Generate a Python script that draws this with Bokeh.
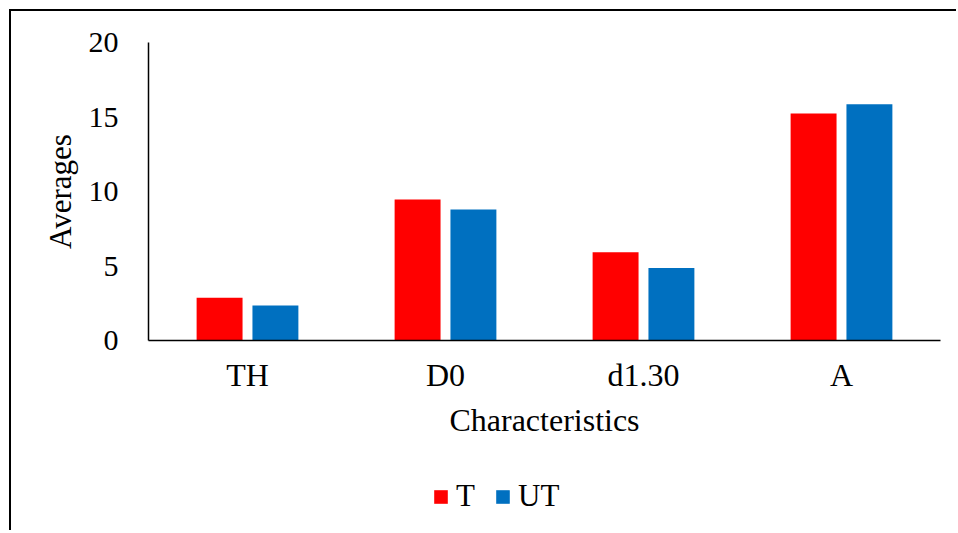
from bokeh.plotting import figure
from bokeh.layouts import column
from bokeh.models import ColumnDataSource, Legend, LegendItem, FactorRange
from bokeh.transform import dodge
from bokeh.embed import file_html
from bokeh.resources import INLINE

categories = ["TH", "D0", "d1.30", "A"]
t_values = [2.87, 9.46, 5.93, 15.24]
ut_values = [2.35, 8.79, 4.87, 15.85]
series_names = ["T", "UT"]
colors = ["#FF0000", "#0070C0"]
y_ticks = [0, 5, 10, 15, 20]

source = ColumnDataSource(dict(cat=categories, T=t_values, UT=ut_values))

FONT = "Liberation Serif"

p = figure(
    x_range=FactorRange(*categories, range_padding=0),
    y_range=(0, 20),
    width=945, height=439,
    output_backend="svg", toolbar_location=None,
    min_border_left=137, min_border_right=16, min_border_top=31, min_border_bottom=110,
)
p.outline_line_color = None
p.xgrid.grid_line_color = None
p.ygrid.grid_line_color = None

r1 = p.vbar(x=dodge("cat", -0.141, range=p.x_range), top="T", width=0.232,
            source=source, color=colors[0], line_color=None)
r2 = p.vbar(x=dodge("cat", 0.141, range=p.x_range), top="UT", width=0.232,
            source=source, color=colors[1], line_color=None)

p.yaxis.ticker = y_ticks
for ax in (p.xaxis[0], p.yaxis[0]):
    ax.axis_line_color = "black"
    ax.axis_line_width = 1.5
    ax.major_tick_line_color = None
    ax.minor_tick_line_color = None
    ax.major_tick_out = 0
    ax.major_tick_in = 0
    ax.major_label_text_font = FONT
    ax.major_label_text_color = "black"
    ax.axis_label_text_font = FONT
    ax.axis_label_text_font_style = "normal"
    ax.axis_label_text_color = "black"

p.xaxis.major_label_text_font_size = "32px"
p.xaxis.axis_label_text_font_size = "32px"
p.yaxis.major_label_text_font_size = "30px"
p.yaxis.axis_label_text_font_size = "31px"
p.xaxis.axis_label = "Characteristics"
p.yaxis.axis_label = "Averages"
p.xaxis.major_label_standoff = 16
p.xaxis.axis_label_standoff = 6
p.yaxis.major_label_standoff = 30
p.yaxis.axis_label_standoff = 8

# legend strip below the chart (swatches take their colours from renderers
# sharing the same source; the y range keeps these copies out of view)
lf = figure(
    x_range=p.x_range, y_range=(100, 200),
    width=945, height=80,
    output_backend="svg", toolbar_location=None,
    min_border_left=0, min_border_right=0, min_border_top=0, min_border_bottom=0,
)
lf.axis.visible = False
lf.grid.visible = False
lf.outline_line_color = None
l1 = lf.vbar(x="cat", top="T", width=0.232, source=source, color=colors[0], line_color=None)
l2 = lf.vbar(x="cat", top="UT", width=0.232, source=source, color=colors[1], line_color=None)

legend = Legend(
    items=[LegendItem(label=series_names[0], renderers=[l1]),
           LegendItem(label=series_names[1], renderers=[l2])],
    orientation="horizontal",
    location=(284, 16),
    padding=0, margin=0, spacing=18,
    glyph_width=17, glyph_height=17, label_standoff=7,
    label_text_font=FONT, label_text_font_size="31px", label_text_color="black",
    border_line_alpha=0, background_fill_alpha=0,
)
lf.add_layout(legend, "center")

layout = column(p, lf, spacing=0)
layout.styles = {"margin-left": "9px", "margin-top": "9px",
                 "border-top": "2px solid black", "border-left": "2px solid black"}

open("out.html", "w").write(file_html(layout, INLINE))
